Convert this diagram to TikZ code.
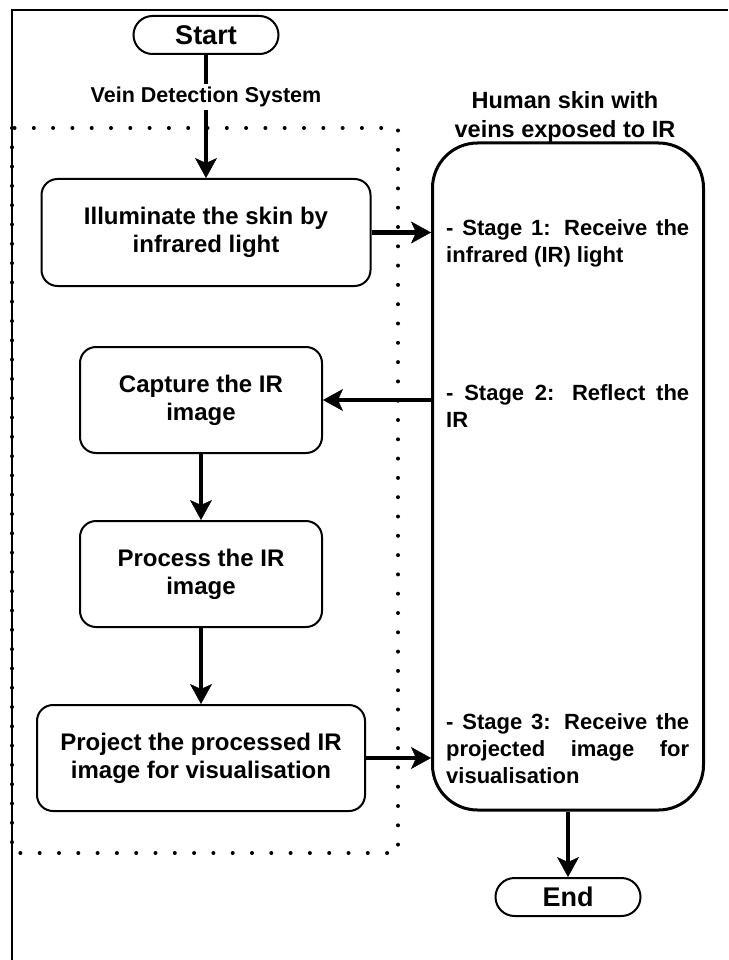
\documentclass[tikz,border=0pt]{standalone}
\usepackage{fontspec}
\setmainfont{Liberation Sans}
\usetikzlibrary{arrows.meta}

\begin{document}
\begin{tikzpicture}[x=1pt,y=-1pt,
  proc/.style = {rectangle,draw,line width=2pt,rounded corners=16pt,align=center,inner sep=0pt,font=\bfseries\fontsize{24}{28}\selectfont},
  term/.style = {rectangle,draw,line width=2pt,rounded corners=19pt,minimum width=145pt,minimum height=38pt,inner sep=0pt,font=\bfseries\fontsize{27}{30}\selectfont},
  stagetext/.style = {anchor=west,text width=243pt,align=justify,inner sep=0pt,font=\bfseries\fontsize{22}{27}\selectfont},
  flow/.style = {line width=4.5pt,-{Stealth[length=20pt,width=22pt,inset=5pt,line width=0.5pt]}},
  dots/.style = {line width=4pt,line cap=round,dash pattern=on 0pt off 19.3pt}]
\useasboundingbox (0,0) rectangle (728,960);
\draw[line width=1.5pt] (12,960) -- (12,10) -- (728,10);
\draw[dots] (12,128) rectangle (398,853);
\node[term] (start) at (206,35) {Start};
\node[inner sep=3pt,font=\bfseries\fontsize{21.5}{26}\selectfont] (vds) at (206,97) {Vein Detection System};
\node[proc,minimum width=329pt,minimum height=107pt] (illum) at (206,232.5) {Illuminate the skin by\\infrared light};
\node[proc,minimum width=242pt,minimum height=106pt] (capture) at (201,400) {Capture the IR\\image};
\node[proc,minimum width=242pt,minimum height=106pt] (process) at (201,574) {Process the IR\\image};
\node[proc,minimum width=328pt,minimum height=106pt] (project) at (201,758) {Project the processed IR\\image for visualisation};
\node[draw,line width=3pt,rounded corners=45pt,minimum width=271pt,minimum height=667pt] (skin) at (568,476.5) {};
\node[align=center,font=\bfseries\fontsize{23.5}{29}\selectfont] (skintitle) at (565,117) {Human skin with\\veins exposed to IR};
\node[stagetext] (stage1) at (446,243.5) {- Stage 1: Receive the\linebreak infrared (IR) light};
\node[stagetext] (stage2) at (446,406) {- Stage 2: Reflect the\linebreak IR};
\node[stagetext] (stage3) at (446,749) {- Stage 3: Receive the\linebreak projected image for\linebreak visualisation};
\node[term] (finish) at (568,897) {End};
\draw[line width=4.5pt] (start) -- (vds);
\draw[flow] (vds) -- (illum);
\draw[flow] (illum.east) -- (illum.east -| skin.west);
\draw[flow] (capture.east -| skin.west) -- (capture.east);
\draw[flow] (capture) -- (process);
\draw[flow] (process) -- (project);
\draw[flow] (project.east) -- (project.east -| skin.west);
\draw[flow] (skin) -- (finish);
\end{tikzpicture}
\end{document}
